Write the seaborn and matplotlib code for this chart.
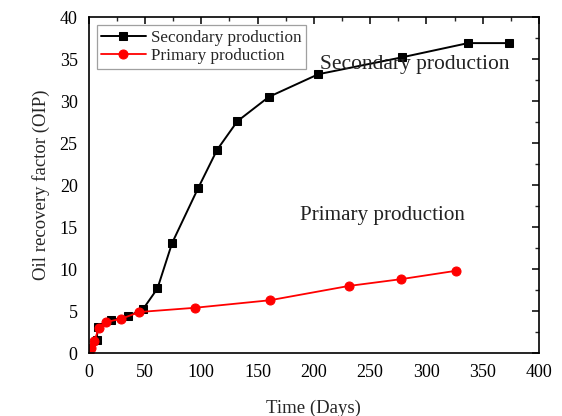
import matplotlib
matplotlib.use("Agg")
import matplotlib.pyplot as plt
from matplotlib.ticker import MultipleLocator
import seaborn as sns
import pandas as pd

# Secondary production (black squares)
sec_days = [0, 7, 8, 20, 35, 48, 61, 74, 97, 114, 132, 160, 204, 278, 337, 373]
sec_oip = [0, 1.6, 3.1, 3.9, 4.4, 5.2, 7.7, 13.1, 19.6, 24.2, 27.6, 30.5, 33.2, 35.2, 36.9, 36.9]

# Primary production (red circles)
pri_days = [0, 2, 5, 9, 15, 29, 45, 94, 161, 231, 277, 326]
pri_oip = [0, 0.6, 1.5, 3.0, 3.7, 4.1, 4.9, 5.4, 6.3, 8.0, 8.8, 9.8]

x_ticks = [0, 50, 100, 150, 200, 250, 300, 350, 400]
y_ticks = [0, 5, 10, 15, 20, 25, 30, 35, 40]

sns.set_style("white")
plt.rcParams["font.family"] = ["Liberation Serif", "DejaVu Serif"]

sec = pd.DataFrame({"days": sec_days, "oip": sec_oip})
pri = pd.DataFrame({"days": pri_days, "oip": pri_oip})

fig = plt.figure(figsize=(5.62, 4.16), dpi=100)
ax = fig.add_axes([0.158, 0.151, 0.801, 0.808])

sns.lineplot(data=sec, x="days", y="oip", ax=ax, color="black", marker="s",
             markersize=6, markeredgecolor="black", linewidth=1.4,
             label="Secondary production")
sns.lineplot(data=pri, x="days", y="oip", ax=ax, color="#ff0000", marker="o",
             markersize=6.5, markeredgecolor="#ff0000", linewidth=1.3,
             label="Primary production")

ax.set_xlim(0, 400)
ax.set_ylim(0, 40)
ax.set_xticks(x_ticks)
ax.set_yticks(y_ticks)
ax.xaxis.set_minor_locator(MultipleLocator(25))
ax.yaxis.set_minor_locator(MultipleLocator(2.5))
ax.tick_params(axis="both", which="major", labelsize=13, length=5, width=1.1,
               direction="out", colors="black", pad=3)
ax.tick_params(axis="both", which="minor", length=3, width=1.0, direction="out")
ax.tick_params(top=True, right=True, which="both")
# inward ticks on the top and right spines
for t in ax.xaxis.get_major_ticks() + ax.xaxis.get_minor_ticks():
    t.tick2line.set_marker(3)
for t in ax.yaxis.get_major_ticks() + ax.yaxis.get_minor_ticks():
    t.tick2line.set_marker(0)

for s in ax.spines.values():
    s.set_color("black")
    s.set_linewidth(1.2)

ax.set_xlabel("Time (Days)", fontsize=13.5, labelpad=13)
ax.set_ylabel("Oil recovery factor (OIP)", fontsize=13.5, labelpad=7)

ax.text(205, 34.3, "Secondary production", fontsize=15.5, color="#222222",
        ha="left", va="center")
ax.text(188, 16.4, "Primary production", fontsize=15.2, color="#222222",
        ha="left", va="center")

leg = ax.legend(loc="upper left", bbox_to_anchor=(0.018, 0.975), fontsize=12.3,
                frameon=True, fancybox=False, edgecolor="#888888",
                borderpad=0.25, handlelength=2.6, handletextpad=0.3,
                labelspacing=0.15, borderaxespad=0.0)
leg.get_frame().set_linewidth(0.9)

fig.savefig("out.png", dpi=100)
